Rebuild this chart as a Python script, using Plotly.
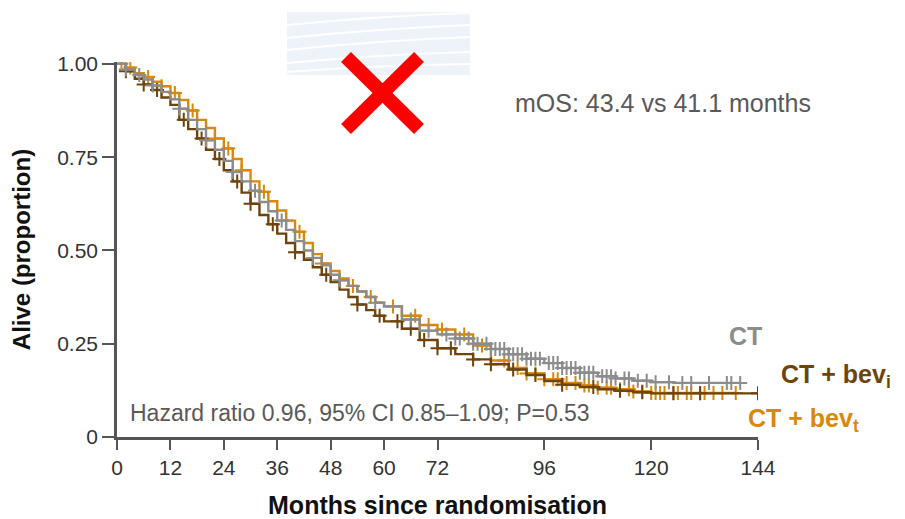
import numpy as np
import plotly.graph_objects as go

# ---------------- data ----------------
x_ticks = [0, 12, 24, 36, 48, 60, 72, 96, 120, 144]
y_ticks = [0, 0.25, 0.50, 0.75, 1.00]
y_ticktext = ["0", "0.25", "0.50", "0.75", "1.00"]

# CT (grey)
months_ct = [0, 2, 4, 6, 8, 10, 12, 14, 16, 18, 20, 22, 24, 26, 28, 30, 32, 34, 36, 38, 40,
             42, 44, 46, 48, 50, 52, 54, 56, 58, 60, 64, 68, 72, 76, 80, 84, 88, 92, 96,
             100, 104, 108, 112, 116, 120, 125, 140]
surv_ct = [1.0, 0.985, 0.97, 0.958, 0.942, 0.925, 0.905, 0.88, 0.85, 0.825, 0.795, 0.77, 0.74,
           0.71, 0.685, 0.66, 0.63, 0.605, 0.58, 0.555, 0.525, 0.50, 0.48, 0.46, 0.435, 0.42,
           0.405, 0.39, 0.375, 0.36, 0.35, 0.315, 0.285, 0.275, 0.264, 0.25, 0.236, 0.222,
           0.21, 0.198, 0.185, 0.172, 0.163, 0.157, 0.151, 0.147, 0.145, 0.145]
censor_ct = [2, 5, 8, 14, 20, 26, 31, 37, 44, 50, 58, 66, 70, 74, 76, 77, 79, 80, 81, 83, 84,
             85, 86, 87, 88, 89, 90, 91, 92, 93, 94, 95, 97, 98, 99, 100, 101, 102, 103, 104,
             105, 106, 107, 109, 110, 111, 112, 114, 115, 117, 119, 121, 124, 127, 129, 133,
             137, 138, 140]

# CT + bev_i (brown)
months_bevi = [0, 2, 4, 6, 8, 10, 12, 14, 16, 18, 20, 22, 24, 26, 28, 30, 32, 34, 36, 38, 40,
               42, 44, 46, 48, 50, 52, 54, 56, 58, 60, 64, 68, 72, 76, 80, 84, 88, 92, 96,
               100, 104, 108, 112, 116, 120, 144]
surv_bevi = [1.0, 0.98, 0.96, 0.945, 0.93, 0.91, 0.89, 0.85, 0.825, 0.80, 0.77, 0.745, 0.715,
             0.685, 0.655, 0.625, 0.595, 0.57, 0.545, 0.52, 0.495, 0.475, 0.455, 0.435, 0.415,
             0.395, 0.375, 0.355, 0.34, 0.325, 0.31, 0.29, 0.26, 0.238, 0.222, 0.208, 0.195,
             0.181, 0.166, 0.15, 0.14, 0.134, 0.128, 0.124, 0.12, 0.117, 0.117]
censor_bevi = [2, 6, 9, 15, 19, 23, 27, 30, 35, 40, 47, 54, 59, 63, 66, 69, 72, 75, 80, 84, 89,
               94, 100, 107, 113, 118, 125, 131, 144]

# CT + bev_t (orange)
months_bevt = [0, 2, 4, 6, 8, 10, 12, 14, 16, 18, 20, 22, 24, 26, 28, 30, 32, 34, 36, 38, 40,
               42, 44, 46, 48, 50, 52, 54, 56, 58, 60, 64, 68, 72, 76, 80, 84, 88, 92, 96,
               100, 104, 108, 112, 116, 120, 139]
surv_bevt = [1.0, 0.99, 0.975, 0.965, 0.952, 0.94, 0.922, 0.903, 0.875, 0.85, 0.828, 0.80,
             0.773, 0.745, 0.715, 0.685, 0.657, 0.632, 0.607, 0.58, 0.55, 0.52, 0.49, 0.465,
             0.445, 0.425, 0.405, 0.39, 0.375, 0.36, 0.35, 0.325, 0.30, 0.288, 0.275, 0.245,
             0.205, 0.185, 0.17, 0.155, 0.145, 0.138, 0.132, 0.128, 0.122, 0.118, 0.118]
censor_bevt = [1, 3, 7, 10, 13, 17, 22, 25, 28, 33, 38, 41, 46, 53, 57, 62, 67, 70, 73, 78, 82,
               87, 90, 92, 94, 96, 98, 99, 101, 103, 105, 106, 108, 110, 111, 113, 115, 116,
               118, 120, 121, 122, 123, 125, 126, 128, 129, 131, 132, 134, 136, 139]

# ---------------- styling ----------------
C_CT = "#8c8c8c"
C_BEVI = "#6e440c"
C_BEVT = "#d9880d"
AXIS = "#555555"
TXT = "#595959"
FONT = "Liberation Sans, Arial, sans-serif"

W, H = 905, 519
ML, MR, MT, MB = 117, 147, 62, 82
PW, PH = W - ML - MR, H - MT - MB


def px(x):
    return (x - ML) / PW


def py(y):
    return (H - MB - y) / PH


def step_at(times, surv, t):
    times = np.asarray(times, float)
    surv = np.asarray(surv, float)
    idx = np.searchsorted(times, np.asarray(t, float), side="right") - 1
    idx = np.clip(idx, 0, len(surv) - 1)
    return surv[idx]


fig = go.Figure()

arms = [
    ("CT + bev<sub>t</sub>", months_bevt, surv_bevt, censor_bevt, C_BEVT),
    ("CT + bev<sub>i</sub>", months_bevi, surv_bevi, censor_bevi, C_BEVI),
    ("CT", months_ct, surv_ct, censor_ct, C_CT),
]
for name, t, s, c, col in arms:
    fig.add_trace(go.Scatter(x=t, y=s, mode="lines", line=dict(color=col, width=2.4, shape="hv"),
                             name=name, showlegend=False, hoverinfo="skip"))
    fig.add_trace(go.Scatter(x=c, y=step_at(t, s, c), mode="markers",
                             marker=dict(symbol="cross-thin", size=10,
                                         line=dict(color=col, width=2)),
                             name=name + " censored", showlegend=False, hoverinfo="skip"))

# decorative elements at top
shapes = [
    dict(type="rect", xref="paper", yref="paper", x0=px(287), x1=px(470), y0=py(75), y1=py(12),
         fillcolor="#eef3f9", line=dict(width=0), layer="below"),
]
for (ya, yb) in [(25, 13), (38, 25), (50, 37), (63, 52), (72, 64)]:
    shapes.append(dict(type="path", xref="paper", yref="paper",
                       path=f"M {px(287)},{py(ya)} Q {px(380)},{py((ya + yb) / 2 - 3)} {px(470)},{py(yb)}",
                       line=dict(color="white", width=2)))
shapes += [
    dict(type="line", xref="paper", yref="paper", x0=px(346), y0=py(57), x1=px(419), y1=py(129),
         line=dict(color="#ff0000", width=14)),
    dict(type="line", xref="paper", yref="paper", x0=px(419), y0=py(57), x1=px(346), y1=py(129),
         line=dict(color="#ff0000", width=14)),
]

annotations = [
    dict(text="mOS: 43.4 vs 41.1 months", x=px(513), y=py(103), xref="paper", yref="paper",
         xanchor="left", yanchor="middle", showarrow=False, font=dict(size=25, color=TXT, family=FONT)),
    dict(text="Hazard ratio 0.96, 95% CI 0.85\u20131.09; P=0.53", x=px(128), y=py(413), xref="paper",
         yref="paper", xanchor="left", yanchor="middle", showarrow=False,
         font=dict(size=23, color=TXT, family=FONT)),
    dict(text="<b>CT</b>", x=px(727), y=py(336), xref="paper", yref="paper", xanchor="left",
         yanchor="middle", showarrow=False, font=dict(size=25, color=C_CT, family=FONT)),
    dict(text="<b>CT + bev<sub>i</sub></b>", x=px(779), y=py(376), xref="paper", yref="paper",
         xanchor="left", yanchor="middle", showarrow=False, font=dict(size=25, color=C_BEVI, family=FONT)),
    dict(text="<b>CT + bev<sub>t</sub></b>", x=px(746), y=py(420), xref="paper", yref="paper",
         xanchor="left", yanchor="middle", showarrow=False, font=dict(size=25, color=C_BEVT, family=FONT)),
]

fig.update_layout(
    width=W, height=H,
    margin=dict(l=ML, r=MR, t=MT, b=MB, autoexpand=False),
    paper_bgcolor="white", plot_bgcolor="white",
    font=dict(family=FONT, color="#333333"),
    shapes=shapes, annotations=annotations,
    showlegend=False,
)
fig.update_xaxes(range=[0, 144], tickvals=x_ticks, ticktext=[str(v) for v in x_ticks],
                 ticks="outside", ticklen=10, tickwidth=2, tickcolor=AXIS,
                 showline=True, linecolor=AXIS, linewidth=2.5, showgrid=False, zeroline=False,
                 tickfont=dict(size=21, color="#333333", family=FONT),
                 title=dict(text="<b>Months since randomisation</b>", standoff=20,
                            font=dict(size=25, color="#111111", family=FONT)),
                 automargin=False)
fig.update_yaxes(range=[0, 1.005], tickvals=y_ticks, ticktext=y_ticktext,
                 ticks="outside", ticklen=12, tickwidth=2, tickcolor=AXIS,
                 showline=True, linecolor=AXIS, linewidth=2.5, showgrid=False, zeroline=False,
                 tickfont=dict(size=21, color="#333333", family=FONT),
                 title=dict(text="<b>Alive (proportion)</b>", standoff=20,
                            font=dict(size=24, color="#111111", family=FONT)),
                 automargin=False)

fig.write_html("out.html")
